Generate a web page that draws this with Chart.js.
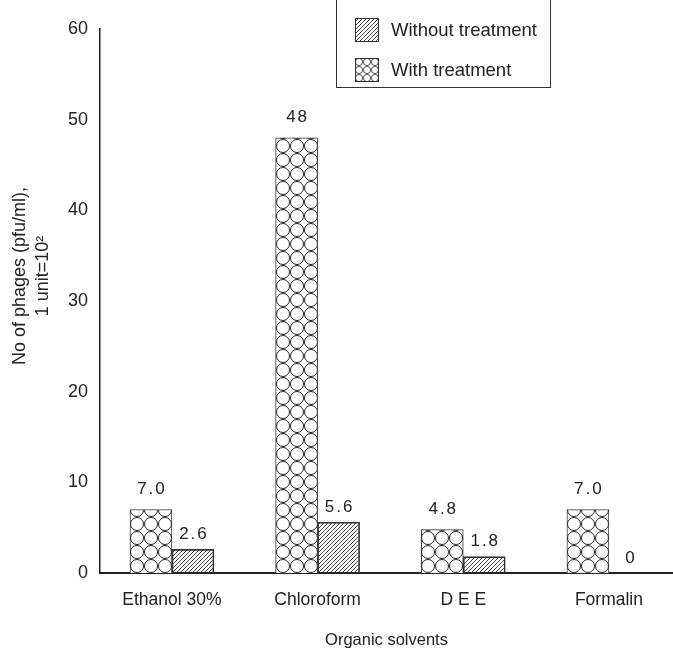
<!DOCTYPE html>
<html><head><meta charset="utf-8">
<script src="https://cdn.jsdelivr.net/npm/chart.js@4/dist/chart.umd.min.js"></script>
<style>html,body{margin:0;padding:0;background:#fff;overflow:hidden}#wrap{width:673px;height:654px;position:relative}</style>
</head><body><div id="wrap"><canvas id="c" width="673" height="654"></canvas></div>
<script>
const categories = ['Ethanol 30%', 'Chloroform', 'D E E', 'Formalin'];
const withTreatment = [7.0, 48, 4.8, 7.0];
const withoutTreatment = [2.6, 5.6, 1.8, 0];
const withLabels = ['7.0', '48', '4.8', '7.0'];
const withoutLabels = ['2.6', '5.6', '1.8', '0'];
const yTickValues = [0, 10, 20, 30, 40, 50, 60];
const seriesNames = ['With treatment', 'Without treatment'];
const yTitleLines = ['No of phages (pfu/ml),', '1 unit=10²'];
const xTitle = 'Organic solvents';

const FONT = "'Liberation Sans', Arial, sans-serif";
Chart.defaults.font.family = FONT;
Chart.defaults.color = '#222';

function makeHatchTile(size) {
  const c = document.createElement('canvas');
  c.width = size; c.height = size;
  const g = c.getContext('2d');
  g.strokeStyle = '#333'; g.lineWidth = 0.9;
  g.beginPath();
  g.moveTo(-1, size + 1); g.lineTo(size + 1, -1);
  g.moveTo(-1, 1); g.lineTo(1, -1);
  g.moveTo(size - 1, size + 1); g.lineTo(size + 1, size - 1);
  g.stroke();
  return c;
}
function makeCircleTile(size, lw) {
  const c = document.createElement('canvas');
  c.width = size; c.height = size;
  const g = c.getContext('2d');
  g.fillStyle = '#fff'; g.fillRect(0, 0, size, size);
  g.strokeStyle = '#222'; g.lineWidth = lw;
  g.beginPath();
  g.arc(size / 2, size / 2, size / 2 - lw / 2, 0, Math.PI * 2);
  g.stroke();
  return c;
}
const hatchTile = makeHatchTile(4);
const circleTile = makeCircleTile(14, 1);
const smallCircleTile = makeCircleTile(8, 0.8);
const ctx0 = document.getElementById('c').getContext('2d');

function patternAt(tile, x, y) {
  const p = ctx0.createPattern(tile, 'repeat');
  p.setTransform(new DOMMatrix().translate(x, y));
  return p;
}
const BAR_W = 42;
function barBg(tile, isLeft) {
  return function (context) {
    const chart = context.chart;
    const xs = chart.scales.x, ys = chart.scales.y;
    if (!xs || !ys || context.dataIndex === undefined) return '#fff';
    const cx = xs.getPixelForValue(context.dataIndex + 1);
    const left = isLeft ? cx - BAR_W : cx;
    return patternAt(tile, Math.round(left), Math.round(ys.getPixelForValue(0)));
  };
}

const valueLabels = {
  id: 'valueLabels',
  afterDatasetsDraw(chart) {
    const c = chart.ctx;
    c.save();
    c.font = '17px ' + FONT;
    c.fillStyle = '#222';
    c.textAlign = 'center';
    c.textBaseline = 'middle';
    c.letterSpacing = '2px';
    const sets = [[0, withLabels, 20], [1, withoutLabels, 15]];
    sets.forEach(([di, labels, off]) => {
      const meta = chart.getDatasetMeta(di);
      meta.data.forEach((bar, i) => {
        c.fillText(labels[i], bar.x + 1, bar.y - off);
      });
    });
    c.restore();
  }
};

const yTitle = {
  id: 'yTitle',
  afterDraw(chart) {
    const c = chart.ctx;
    c.save();
    c.translate(0, 276);
    c.rotate(-Math.PI / 2);
    c.font = '18px ' + FONT;
    c.fillStyle = '#222';
    c.textAlign = 'center'; c.textBaseline = 'middle';
    c.fillText(yTitleLines[0], 0, 20);
    c.fillText(yTitleLines[1], 0, 43);
    c.restore();
  }
};

const boxLegend = {
  id: 'boxLegend',
  afterDraw(chart) {
    const c = chart.ctx;
    c.save();
    c.strokeStyle = '#333'; c.lineWidth = 1;
    c.strokeRect(336.5, -2, 214, 89.5);
    const items = [
      { name: seriesNames[1], tile: hatchTile, y: 18 },
      { name: seriesNames[0], tile: smallCircleTile, y: 58 }
    ];
    items.forEach(it => {
      c.fillStyle = patternAt(it.tile, 355, it.y);
      c.fillRect(355, it.y, 23, 23);
      c.strokeStyle = '#333';
      c.strokeRect(355.5, it.y + 0.5, 23, 23);
      c.fillStyle = '#222';
      c.font = '18.5px ' + FONT;
      c.textAlign = 'left'; c.textBaseline = 'middle';
      c.fillText(it.name, 391, it.y + 13);
    });
    c.restore();
  }
};

new Chart(document.getElementById('c'), {
  type: 'bar',
  data: {
    datasets: [
      {
        label: seriesNames[0],
        data: withTreatment.map((v, i) => ({ x: i + 1, y: v })),
        backgroundColor: barBg(circleTile, true),
        borderColor: '#333', borderWidth: 1
      },
      {
        label: seriesNames[1],
        data: withoutTreatment.map((v, i) => ({ x: i + 1, y: v })),
        backgroundColor: barBg(hatchTile, false),
        borderColor: '#333', borderWidth: 1
      }
    ]
  },
  options: {
    responsive: false,
    animation: false,
    layout: { padding: { top: 29, left: 0, right: 0, bottom: 0 } },
    barThickness: BAR_W,
    plugins: { legend: { display: false }, tooltip: { enabled: false } },
    scales: {
      x: {
        type: 'linear',
        offset: false,
        min: 0.506, max: 4.44,
        grid: { display: false, drawTicks: false },
        border: { display: true, color: '#222', width: 2 },
        afterBuildTicks: (s) => { s.ticks = categories.map((c, i) => ({ value: i + 1 })); },
        ticks: {
          padding: 17,
          font: { size: 17.5 },
          callback: (v) => categories[Math.round(v) - 1]
        },
        title: { display: true, text: xTitle, font: { size: 16.5 }, padding: { top: 0, bottom: 4 } },
        afterFit: (s) => { s.height = 81; }
      },
      y: {
        min: 0, max: 60,
        grid: { display: false, drawTicks: false },
        border: { display: true, color: '#222', width: 1.5 },
        afterBuildTicks: (s) => { s.ticks = yTickValues.map(v => ({ value: v })); },
        ticks: { padding: 12, font: { size: 18 } },
        afterFit: (s) => { s.width = 100; }
      }
    }
  },
  plugins: [valueLabels, yTitle, boxLegend]
});
</script>
</body></html>
